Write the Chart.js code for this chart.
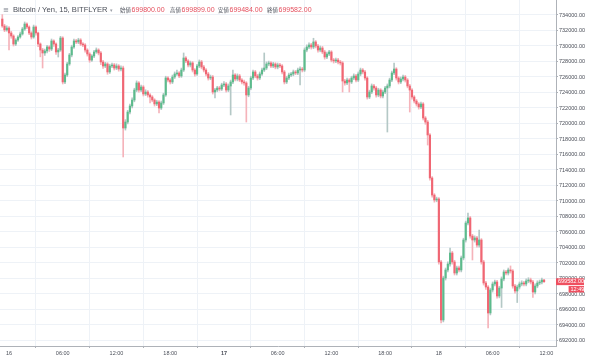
<!DOCTYPE html>
<html>
<head>
<meta charset="utf-8">
<script src="https://cdn.jsdelivr.net/npm/chart.js@4.4.0/dist/chart.umd.min.js"></script>
<style>
  html, body { margin: 0; padding: 0; background: #ffffff; }
  canvas { display: block; }
</style>
</head>
<body>
<canvas id="priceChart" width="600" height="361"></canvas>
<script>
// 15 minute candles, bitFlyer BTC/JPY, 15th 23:15 -> 18th 11:45
const firstCandleHour = -0.75; // hours counted from the 16th 00:00
const candleHours = 0.25;

const opens = [
  733480, 732580, 732070, 732320, 731680, 731290, 730260, 730770, 731160, 731550,
  732190, 732840, 732450, 731680, 731160, 732450, 731680, 730260, 729480, 729100,
  729360, 729870, 729610, 730650, 730260, 729230, 729480, 731030, 725360, 726260,
  727680, 728840, 729870, 730650, 730520, 730770, 730260, 730130, 729480, 728970,
  728190, 728710, 729230, 729480, 729100, 727940, 727420, 727680, 726650, 727420,
  727550, 727160, 727420, 727030, 727160, 719420, 720190, 721480, 722260, 723030,
  724320, 725230, 724320, 724710, 723810, 724060, 723680, 723420, 723030, 722520,
  722770, 722000, 722650, 723680, 725870, 725610, 725360, 726000, 726390, 726520,
  726130, 726900, 728450, 728070, 727550, 727810, 726900, 726390, 727420, 727940,
  727290, 726900, 726390, 725870, 726000, 724060, 724320, 724580, 724450, 724970,
  725100, 724320, 724840, 725360, 726260, 725740, 726130, 725610, 725360, 725230,
  723680, 724580, 725870, 726650, 726130, 725870, 726390, 726900, 727160, 727680,
  727810, 727420, 727680, 727290, 727550, 727420, 726650, 725360, 725870, 726260,
  726390, 726650, 726520, 726900, 727030, 726900, 729480, 729870, 730130, 729870,
  730520, 730000, 729480, 729740, 729230, 728580, 728970, 729230, 728190, 728070,
  728190, 727940, 727810, 725480, 725230, 725610, 725360, 725870, 726130, 725610,
  726390, 726900, 726650, 725870, 723420, 724060, 724840, 724580, 723680, 724320,
  723550, 724060, 724580, 724840, 725610, 726520, 727030, 725870, 725360, 725740,
  726000, 725610, 724840, 724320, 723420, 722900, 722520, 722130, 722520, 720710,
  720190, 718520, 712970, 710770, 710130, 710260, 702130, 694650, 700060, 701100,
  701870, 703290, 702130, 700710, 701360, 701100, 702650, 704970, 707160, 707810,
  705480, 704970, 705230, 704320, 704970, 702130, 699420, 698900, 695550, 698520,
  699290, 699550, 697740, 698770, 699940, 700840, 700710, 701100, 700970, 699030,
  698390, 698900, 699290, 699420, 699290, 699680, 699810, 699550, 698260, 699030,
  699420, 699550, 699800
];

const highs = [
  734050, 732800, 732600, 732500, 731900, 731450, 730950, 731350, 731800, 732400,
  733100, 733000, 732600, 731850, 732700, 732600, 731800, 730400, 729700, 729600,
  730100, 730050, 730900, 730800, 730400, 729700, 731250, 731200, 726500, 727900,
  729050, 730100, 730900, 730850, 731000, 730950, 730450, 730300, 729650, 729150,
  728900, 729450, 729750, 729650, 729300, 728150, 727900, 727850, 727650, 727800,
  727750, 727700, 727600, 727450, 727400, 720500, 721700, 722500, 723300, 724550,
  725500, 725400, 724950, 724900, 724350, 724250, 723850, 723600, 723200, 723000,
  722950, 722900, 723900, 726100, 726050, 725800, 726250, 726650, 726900, 726700,
  727150, 729100, 728650, 728250, 728050, 728000, 727100, 727650, 728200, 728150,
  727500, 727100, 726600, 726250, 726200, 724550, 724800, 724800, 725200, 725400,
  725300, 725100, 725600, 726900, 726450, 726400, 726350, 725800, 725600, 725400,
  724800, 726100, 726900, 726850, 726350, 726650, 727150, 729100, 727950, 728050,
  728000, 727900, 727850, 727800, 727750, 727600, 726850, 726100, 726500, 726600,
  726900, 726850, 727150, 727300, 727250, 729750, 730150, 730400, 730350, 731000,
  730700, 730200, 730000, 729950, 729450, 729200, 729450, 729400, 728400, 728450,
  728400, 728150, 728000, 725700, 725850, 725800, 726100, 726400, 726350, 726650,
  727150, 727100, 726850, 726050, 724300, 725100, 725050, 724800, 724550, 724500,
  724300, 724800, 725100, 725850, 726750, 727810, 727200, 726050, 726000, 726250,
  726200, 725800, 725050, 724500, 723600, 723100, 722700, 722750, 722700, 720900,
  720400, 718700, 713150, 710950, 710500, 710450, 702350, 700300, 701350, 702150,
  703930, 703500, 702350, 701600, 701600, 702900, 705200, 707400, 708450, 708000,
  705700, 705500, 705450, 706260, 705150, 702350, 699650, 699100, 698750, 699550,
  699800, 699750, 699000, 700200, 701100, 701050, 701350, 701620, 701150, 699250,
  699150, 699550, 699700, 699650, 699950, 700100, 700050, 699750, 699300, 699700,
  699800, 700060, 699899
];

const lows = [
  732400, 731850, 731900, 729480, 731000, 730000, 730050, 730600, 731000, 731400,
  732000, 732250, 731450, 730900, 731000, 731400, 729900, 728600, 727160, 728800,
  729100, 729300, 729400, 729950, 728900, 728580, 729300, 725100, 725150, 726050,
  727500, 728600, 729700, 730300, 730300, 730050, 729900, 729200, 728700, 727900,
  728000, 728500, 729050, 728850, 727600, 727100, 727200, 726350, 726450, 727200,
  726900, 726950, 726750, 726800, 715680, 719150, 719950, 721250, 722000, 722800,
  724100, 724050, 724100, 723550, 723600, 723400, 722650, 722800, 722250, 722300,
  721350, 721800, 722450, 723500, 725350, 725100, 725150, 725800, 726200, 725900,
  725950, 726700, 727850, 727300, 727300, 726650, 726100, 726200, 727200, 727050,
  726650, 726150, 725600, 725650, 723800, 723290, 724100, 724200, 724250, 724750,
  724050, 724100, 721100, 725150, 725500, 725500, 725400, 725100, 724950, 720190,
  723450, 724350, 725650, 725900, 725600, 725650, 726200, 726700, 726950, 727450,
  727200, 727200, 727050, 727050, 727200, 726400, 725100, 725150, 725650, 726050,
  726150, 726300, 726300, 724970, 726650, 726700, 729250, 729650, 729600, 729650,
  729750, 729200, 729250, 729000, 728300, 728350, 728750, 727950, 727800, 727850,
  727700, 727550, 724060, 724950, 725000, 724060, 725150, 725650, 725350, 725400,
  726150, 726400, 725600, 723150, 723200, 723850, 724300, 723400, 723450, 723300,
  723300, 723850, 718900, 724600, 725400, 726300, 725600, 725100, 725150, 725500,
  725350, 724600, 721480, 723150, 722650, 722250, 721850, 721900, 720450, 719900,
  717220, 712700, 710500, 709850, 709900, 701850, 694260, 694400, 699800, 700850,
  701600, 701850, 700450, 700450, 700850, 700850, 702400, 704700, 706900, 705200,
  702390, 704700, 704050, 704050, 701850, 699150, 698600, 693620, 695300, 698250,
  699050, 697450, 697500, 696260, 699700, 700450, 700450, 700700, 698750, 698100,
  696900, 698650, 699050, 699050, 699050, 699450, 699300, 697550, 698000, 698800,
  699200, 699300, 699484
];

const closes = [
  732580, 732070, 732320, 731680, 731290, 730260, 730770, 731160, 731550, 732190,
  732840, 732450, 731680, 731160, 732450, 731680, 730260, 729480, 729100, 729360,
  729870, 729610, 730650, 730260, 729230, 729480, 731030, 725360, 726260, 727680,
  728840, 729870, 730650, 730520, 730770, 730260, 730130, 729480, 728970, 728190,
  728710, 729230, 729480, 729100, 727940, 727420, 727680, 726650, 727420, 727550,
  727160, 727420, 727030, 727160, 719420, 720190, 721480, 722260, 723030, 724320,
  725230, 724320, 724710, 723810, 724060, 723680, 723420, 723030, 722520, 722770,
  722000, 722650, 723680, 725870, 725610, 725360, 726000, 726390, 726520, 726130,
  726900, 728450, 728070, 727550, 727810, 726900, 726390, 727420, 727940, 727290,
  726900, 726390, 725870, 726000, 724060, 724320, 724580, 724450, 724970, 725100,
  724320, 724840, 725360, 726260, 725740, 726130, 725610, 725360, 725230, 723680,
  724580, 725870, 726650, 726130, 725870, 726390, 726900, 727160, 727680, 727810,
  727420, 727680, 727290, 727550, 727420, 726650, 725360, 725870, 726260, 726390,
  726650, 726520, 726900, 727030, 726900, 729480, 729870, 730130, 729870, 730520,
  730000, 729480, 729740, 729230, 728580, 728970, 729230, 728190, 728070, 728190,
  727940, 727810, 725480, 725230, 725610, 725360, 725870, 726130, 725610, 726390,
  726900, 726650, 725870, 723420, 724060, 724840, 724580, 723680, 724320, 723550,
  724060, 724580, 724840, 725610, 726520, 727030, 725870, 725360, 725740, 726000,
  725610, 724840, 724320, 723420, 722900, 722520, 722130, 722520, 720710, 720190,
  718520, 712970, 710770, 710130, 710260, 702130, 694650, 700060, 701100, 701870,
  703290, 702130, 700710, 701360, 701100, 702650, 704970, 707160, 707810, 705480,
  704970, 705230, 704320, 704970, 702130, 699420, 698900, 695550, 698520, 699290,
  699550, 697740, 698770, 699940, 700840, 700710, 701100, 700970, 699030, 698390,
  698900, 699290, 699420, 699290, 699680, 699810, 699550, 698260, 699030, 699420,
  699550, 699800, 699582
];

const priceTicks = [
  692000, 694000, 696000, 698000, 700000, 702000, 704000, 706000, 708000, 710000, 712000,
  714000, 716000, 718000, 720000, 722000, 724000, 726000, 728000, 730000, 732000, 734000
];
const hourTicks = [0, 6, 12, 18, 24, 30, 36, 42, 48, 54, 60];
const dayLabels = ["16", "17", "18"];
const hourLabels = ["06:00", "12:00", "18:00"];
const symbolTitle = "Bitcoin / Yen, 15, BITFLYER";
const ohlcLabels = ["始値", "高値", "安値", "終値"];
const countdownText = "12:49";

Chart.defaults.font.family = "'Liberation Sans', 'Noto Sans CJK JP', sans-serif";

const upColor = "#5cbb8c";
const downColor = "#f06673";
const upWickColor = "#b4c8c6";
const downWickColor = "#f5b3ba";
const gridColor = "#eef2f7";
const axisColor = "#aeb2b8";
const tickColor = "#4a4e58";
const priceBoxColor = "#ef5060";

const last = closes.length - 1;
const isUp = closes.map((c, i) => c >= opens[i]);

const bodyData = closes.map((c, i) => ({ x: firstCandleHour + i * candleHours, y: [opens[i], c] }));
const wickData = highs.map((h, i) => ({ x: firstCandleHour + i * candleHours, y: [lows[i], h] }));

const overlayPlugin = {
  id: "overlay",
  afterDraw(chart) {
    const ctx = chart.ctx;
    const area = chart.chartArea;
    ctx.save();

    // header line
    ctx.textBaseline = "middle";
    ctx.font = "7px 'DejaVu Sans', sans-serif";
    ctx.fillStyle = "#7a7f8a";
    ctx.fillText("≡", 3, 10);
    ctx.font = "7.6px 'Liberation Sans', sans-serif";
    ctx.fillStyle = "#4a4e58";
    ctx.fillText(symbolTitle, 13, 10);
    ctx.fillStyle = "#9a9ea6";
    ctx.font = "5px 'DejaVu Sans', sans-serif";
    ctx.fillText("▾", 110, 10.5);

    const values = [opens[last], highs[last], lows[last], closes[last]];
    const labelX = [120, 170, 218, 267];
    ohlcLabels.forEach((lab, k) => {
      ctx.font = "5.4px 'Noto Sans CJK JP', sans-serif";
      ctx.fillStyle = "#4a4e58";
      ctx.fillText(lab, labelX[k], 10);
      ctx.font = "7px 'Liberation Sans', sans-serif";
      ctx.fillStyle = "#e5505e";
      ctx.fillText(values[k].toFixed(2), labelX[k] + 11.5, 10);
    });

    // last price marker on the price axis
    const y = chart.scales.y.getPixelForValue(closes[last]);
    const x0 = area.right;
    ctx.fillStyle = priceBoxColor;
    ctx.fillRect(x0, y - 3.4, 28, 6.8);
    ctx.fillRect(x0 + 12.6, y + 4.3, 15.4, 6.4);
    ctx.fillStyle = "#ffffff";
    ctx.font = "5.5px 'Liberation Sans', sans-serif";
    ctx.fillText(closes[last].toFixed(2), x0 + 2, y + 0.2);
    ctx.fillText(countdownText, x0 + 14.5, y + 7.6);
    ctx.restore();
  },
};

const priceChart = new Chart(document.getElementById("priceChart"), {
  type: "bar",
  data: {
    datasets: [
      {
        label: "body",
        data: bodyData,
        backgroundColor: isUp.map((u) => (u ? upColor : downColor)),
        borderWidth: 0,
        barThickness: 1.5,
        minBarLength: 1,
        grouped: false,
        order: 1,
      },
      {
        label: "wick",
        data: wickData,
        backgroundColor: isUp.map((u) => (u ? upWickColor : downWickColor)),
        borderWidth: 0,
        barThickness: 1,
        grouped: false,
        order: 2,
      },
    ],
  },
  options: {
    responsive: false,
    maintainAspectRatio: false,
    animation: false,
    layout: { padding: 0 },
    plugins: {
      legend: { display: false },
      tooltip: { enabled: false },
    },
    scales: {
      x: {
        type: "linear",
        min: -1.006,
        max: 61.08,
        offset: false,
        afterBuildTicks: (scale) => {
          scale.ticks = hourTicks.map((v) => ({ value: v }));
        },
        afterFit: (scale) => {
          scale.height = 15;
          scale.paddingLeft = 0;
          scale.paddingRight = 0;
        },
        grid: {
          color: gridColor,
          tickColor: axisColor,
          tickLength: 2,
        },
        border: { color: axisColor },
        ticks: {
          autoSkip: false,
          maxRotation: 0,
          padding: 2,
          color: tickColor,
          font: (ctx) => ({
            size: 5.5,
            weight: ctx.tick && ctx.tick.value === 24 ? "bold" : "normal",
          }),
          callback: (value) => {
            const h = value % 24;
            return h === 0 ? dayLabels[value / 24] : hourLabels[h / 6 - 1];
          },
        },
      },
      y: {
        type: "linear",
        position: "right",
        min: 691290,
        max: 735935,
        afterBuildTicks: (scale) => {
          scale.ticks = priceTicks.map((v) => ({ value: v }));
        },
        afterFit: (scale) => {
          scale.width = 44;
          scale.paddingTop = 0;
          scale.paddingBottom = 0;
        },
        grid: {
          color: gridColor,
          tickColor: axisColor,
          tickLength: 2,
        },
        border: { color: axisColor },
        ticks: {
          autoSkip: false,
          padding: 1,
          color: tickColor,
          font: { size: 5.5 },
          callback: (value) => value.toFixed(2),
        },
      },
    },
  },
  plugins: [overlayPlugin],
});
</script>
</body>
</html>
